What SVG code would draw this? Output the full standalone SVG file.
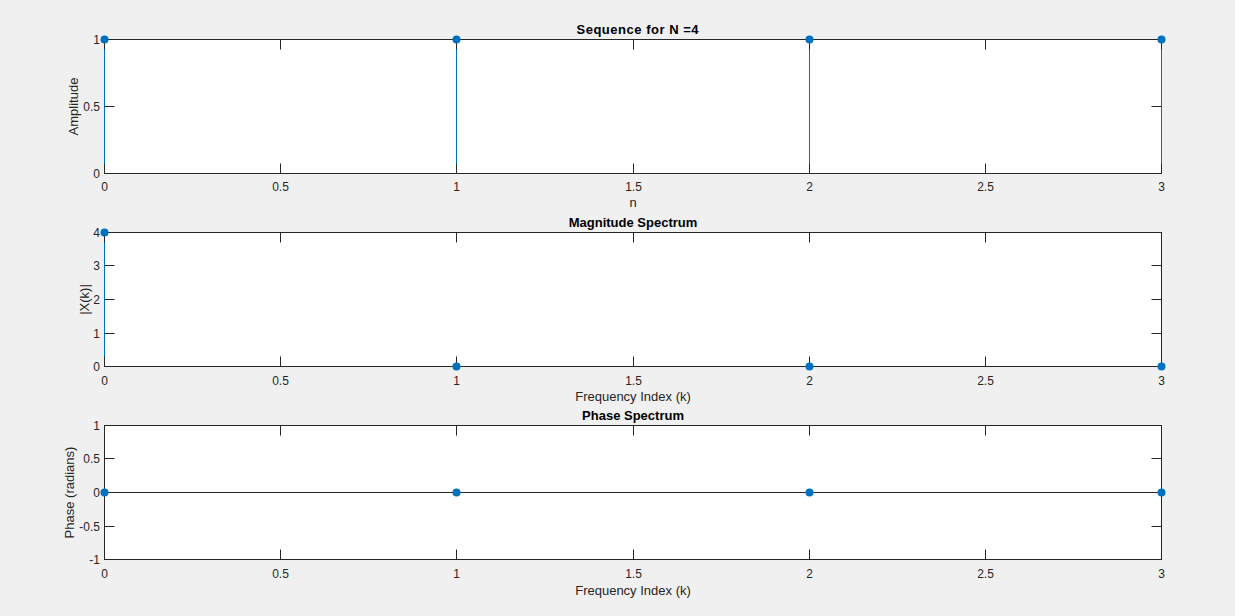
<svg xmlns="http://www.w3.org/2000/svg" width="1235" height="616" viewBox="0 0 1235 616">
<style>
text{font-family:"Liberation Sans",Arial,sans-serif;fill:#262626}
.tk{font-size:12px}
.tx{text-anchor:middle}
.ty{text-anchor:end}
.lb{font-size:13px;text-anchor:middle}
.tt{font-size:13px;font-weight:bold;text-anchor:middle;fill:#000}
.box{fill:#fff;stroke:#262626;stroke-width:1}
.tick{stroke:#262626;stroke-width:1;fill:none}
.stem{stroke:#0072BD;stroke-width:1;fill:none}
.base{stroke:#262626;stroke-width:1}
.mk{fill:#0072BD}
</style>
<defs>
<path id="xt" class="tick" d="M104.5,0v10M280.5,0v10M456.5,0v10M633.5,0v10M809.5,0v10M985.5,0v10M1161.5,0v10"/>
</defs>
<rect width="1235" height="616" fill="#F0F0F0"/>

<g id="axes1">
<rect class="box" x="104.5" y="39.5" width="1057" height="134"/>
<g id="stems1">
<path class="stem" d="M104.5,173.5V39.5M456.5,173.5V39.5M809.5,173.5V39.5M1161.5,173.5V39.5"/>
</g>
<use href="#xt" y="39.5"/>
<use href="#xt" y="173.5" transform="translate(0,347) scale(1,-1)"/>
<path class="tick" d="M104.5,106.5h10M1161.5,106.5h-10M104.5,39.5h10M1161.5,39.5h-10M104.5,173.5h10M1161.5,173.5h-10"/>
<g class="mk">
<circle cx="104.5" cy="39.5" r="4"/><circle cx="456.5" cy="39.5" r="4"/><circle cx="809.5" cy="39.5" r="4"/><circle cx="1161.5" cy="39.5" r="4"/>
</g>
<g class="tk tx">
<text x="104.5" y="191">0</text><text x="280.5" y="191">0.5</text><text x="456.5" y="191">1</text><text x="633.5" y="191">1.5</text><text x="809.5" y="191">2</text><text x="985.5" y="191">2.5</text><text x="1161.5" y="191">3</text>
</g>
<g class="tk ty">
<text x="100" y="178">0</text><text x="100" y="111">0.5</text><text x="100" y="44">1</text>
</g>
<text class="lb" x="633" y="207">n</text>
<text class="lb" transform="translate(78,106.5) rotate(-90)">Amplitude</text>
<text class="tt" x="637.5" y="33.5" textLength="122" lengthAdjust="spacing">Sequence for N =4</text>
</g>

<g id="axes2">
<rect class="box" x="104.5" y="232.5" width="1057" height="134"/>
<g id="stems2">
<path class="stem" d="M104.5,366.5V232.5"/>
</g>
<use href="#xt" y="232.5"/>
<use href="#xt" y="366.5" transform="translate(0,733) scale(1,-1)"/>
<path class="tick" d="M104.5,333.5h10M1161.5,333.5h-10M104.5,299.5h10M1161.5,299.5h-10M104.5,265.5h10M1161.5,265.5h-10M104.5,232.5h10M1161.5,232.5h-10M104.5,366.5h10M1161.5,366.5h-10"/>
<g class="mk">
<circle cx="104.5" cy="232.5" r="4"/><circle cx="456.5" cy="366.5" r="4"/><circle cx="809.5" cy="366.5" r="4"/><circle cx="1161.5" cy="366.5" r="4"/>
</g>
<g class="tk tx">
<text x="104.5" y="384.5">0</text><text x="280.5" y="384.5">0.5</text><text x="456.5" y="384.5">1</text><text x="633.5" y="384.5">1.5</text><text x="809.5" y="384.5">2</text><text x="985.5" y="384.5">2.5</text><text x="1161.5" y="384.5">3</text>
</g>
<g class="tk ty">
<text x="100" y="371">0</text><text x="100" y="338">1</text><text x="100" y="304">2</text><text x="100" y="270">3</text><text x="100" y="237">4</text>
</g>
<text class="lb" x="633" y="401">Frequency Index (k)</text>
<text class="lb" transform="translate(89,299.5) rotate(-90)">|X(k)|</text>
<text class="tt" x="633" y="226.7">Magnitude Spectrum</text>
</g>

<g id="axes3">
<rect class="box" x="104.5" y="425.5" width="1057" height="134"/>
<g id="stems3">
<path class="base" d="M104.5,492.5H1161.5"/>
</g>
<use href="#xt" y="425.5"/>
<use href="#xt" y="559.5" transform="translate(0,1119) scale(1,-1)"/>
<path class="tick" d="M104.5,458.5h10M1161.5,458.5h-10M104.5,526.5h10M1161.5,526.5h-10M104.5,425.5h10M1161.5,425.5h-10M104.5,559.5h10M1161.5,559.5h-10"/>
<g class="mk">
<circle cx="104.5" cy="492.5" r="4"/><circle cx="456.5" cy="492.5" r="4"/><circle cx="809.5" cy="492.5" r="4"/><circle cx="1161.5" cy="492.5" r="4"/>
</g>
<g class="tk tx">
<text x="104.5" y="577.5">0</text><text x="280.5" y="577.5">0.5</text><text x="456.5" y="577.5">1</text><text x="633.5" y="577.5">1.5</text><text x="809.5" y="577.5">2</text><text x="985.5" y="577.5">2.5</text><text x="1161.5" y="577.5">3</text>
</g>
<g class="tk ty">
<text x="100" y="564">-1</text><text x="100" y="531">-0.5</text><text x="100" y="497">0</text><text x="100" y="463">0.5</text><text x="100" y="430">1</text>
</g>
<text class="lb" x="633" y="594.5">Frequency Index (k)</text>
<text class="lb" transform="translate(74,492.5) rotate(-90)">Phase (radians)</text>
<text class="tt" x="633" y="420">Phase Spectrum</text>
</g>
</svg>
